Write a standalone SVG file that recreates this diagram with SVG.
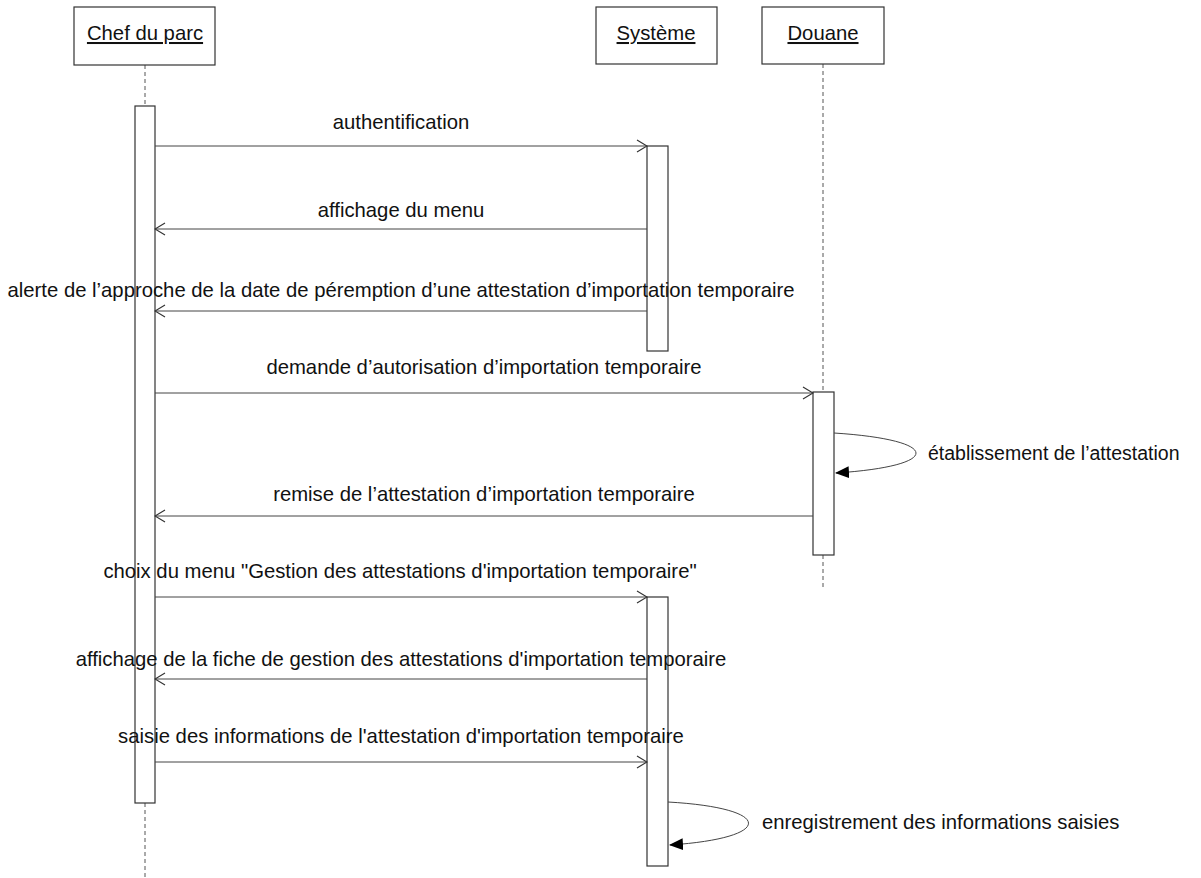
<svg xmlns="http://www.w3.org/2000/svg" width="1201" height="878" viewBox="0 0 1201 878">
<style>
.box{fill:#fff;stroke:#333;stroke-width:1.2}
.act{fill:#fff;stroke:#333;stroke-width:1.2}
.life{stroke:#555;stroke-width:1;stroke-dasharray:4,3;fill:none}
.msg{stroke:#444;stroke-width:1;fill:none}
.t{font-family:"Liberation Sans",Arial,sans-serif;font-size:20.3px;fill:#111}
.s{font-size:19.5px}
.u{text-decoration:underline}
</style>
<defs>
<marker id="open" viewBox="0 0 12 14" refX="11" refY="7" markerWidth="12" markerHeight="14" markerUnits="userSpaceOnUse" orient="auto">
<path d="M1,1 L11,7 L1,13" fill="none" stroke="#333" stroke-width="1.2"/>
</marker>
<marker id="fill" viewBox="0 0 14 12" refX="13" refY="6" markerWidth="14" markerHeight="12" markerUnits="userSpaceOnUse" orient="auto">
<path d="M0,0 L14,6 L0,12 Z" fill="#000"/>
</marker>
</defs>
<g id="lifelines">
<line class="life" x1="145" y1="65" x2="145" y2="106"/>
<line class="life" x1="145" y1="803" x2="145" y2="878"/>
<line class="life" x1="823" y1="64" x2="823" y2="392"/>
<line class="life" x1="823" y1="555" x2="823" y2="590"/>
</g>
<g id="chef">
<rect class="box" x="74" y="7" width="141" height="58"/>
<text class="t u" x="145" y="40" text-anchor="middle">Chef du parc</text>
<rect class="act" x="135" y="106" width="20" height="697"/>
</g>
<g id="systeme">
<rect class="box" x="596" y="7" width="121" height="57"/>
<text class="t u" x="656" y="40" text-anchor="middle">Système</text>
<rect class="act" x="647" y="146" width="21" height="205"/>
<rect class="act" x="647" y="597" width="21" height="269"/>
</g>
<g id="douane">
<rect class="box" x="762" y="7" width="122" height="57"/>
<text class="t u" x="823" y="40" text-anchor="middle">Douane</text>
<rect class="act" x="813" y="392" width="21" height="163"/>
</g>
<g id="connectors">
<line class="msg" x1="155" y1="146" x2="647" y2="146" marker-end="url(#open)"/>
<text class="t" x="401" y="129" text-anchor="middle">authentification</text>
<line class="msg" x1="647" y1="229" x2="155" y2="229" marker-end="url(#open)"/>
<text class="t" x="401" y="217" text-anchor="middle">affichage du menu</text>
<line class="msg" x1="647" y1="311" x2="155" y2="311" marker-end="url(#open)"/>
<text class="t" x="401" y="297" text-anchor="middle">alerte de l’approche de la date de péremption d’une attestation d’importation temporaire</text>
<line class="msg" x1="155" y1="393" x2="813" y2="393" marker-end="url(#open)"/>
<text class="t" x="484" y="374" text-anchor="middle">demande d’autorisation d’importation temporaire</text>
<path class="msg" d="M834,433 C943,440 943,466 836,473" marker-end="url(#fill)"/>
<text class="t s" x="928" y="460">établissement de l’attestation</text>
<line class="msg" x1="813" y1="516" x2="155" y2="516" marker-end="url(#open)"/>
<text class="t" x="484" y="501" text-anchor="middle">remise de l’attestation d’importation temporaire</text>
<line class="msg" x1="155" y1="597" x2="647" y2="597" marker-end="url(#open)"/>
<text class="t" x="400" y="578" text-anchor="middle">choix du menu "Gestion des attestations d'importation temporaire"</text>
<line class="msg" x1="647" y1="679" x2="155" y2="679" marker-end="url(#open)"/>
<text class="t" x="401" y="666" text-anchor="middle">affichage de la fiche de gestion des attestations d'importation temporaire</text>
<line class="msg" x1="155" y1="762" x2="647" y2="762" marker-end="url(#open)"/>
<text class="t" x="401" y="743" text-anchor="middle">saisie des informations de l'attestation d'importation temporaire</text>
<path class="msg" d="M668,802 C775,808 775,838 670,845" marker-end="url(#fill)"/>
<text class="t" x="762" y="829">enregistrement des informations saisies</text>
</g>
</svg>
